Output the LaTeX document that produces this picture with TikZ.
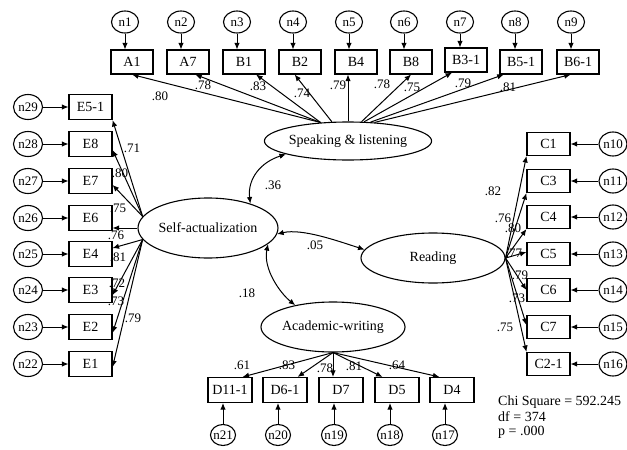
\documentclass[tikz,border=0pt]{standalone}
\usepackage{fontspec}
\setmainfont{Liberation Serif}
\usetikzlibrary{shapes.geometric,arrows.meta}
\newcommand{\fsz}{\fontsize{14}{16}\selectfont}
\newcommand{\fsl}{\fontsize{13}{15}\selectfont}
\begin{document}
\begin{tikzpicture}[x=1pt,y=-1pt,
  ind/.style={draw, line width=1.1pt, minimum width=42pt, minimum height=24pt, inner sep=0pt, font=\fsz},
  indl/.style={ind, minimum width=43pt, minimum height=25pt},
  indr/.style={ind, minimum width=43pt, minimum height=23pt},
  indb/.style={ind, minimum width=44pt, minimum height=25pt},
  err/.style={draw, ellipse, line width=1.1pt, inner sep=-1.5pt, minimum width=27pt, minimum height=22pt, font=\fsl},
  errl/.style={err, minimum width=29pt, minimum height=25pt},
  errr/.style={err, minimum width=28pt, minimum height=24pt},
  errb/.style={err, minimum width=25pt, minimum height=21pt},
  lat/.style={draw, ellipse, line width=1.1pt, inner sep=0pt, font=\fsz},
  arr/.style={-{Latex[length=6.5pt,width=5.5pt]}, line width=1pt},
  cov/.style={{Latex[length=6.5pt,width=5.5pt]}-{Latex[length=6.5pt,width=5.5pt]}, line width=1pt},
  lab/.style={inner sep=0pt, font=\fsl},
  stat/.style={inner sep=0pt, anchor=west, font=\fsz}
]
\fill[white] (0,0) rectangle (627,450);
\useasboundingbox (0,0) rectangle (627,450);

% latent variables
\node[lat, minimum width=164pt, minimum height=38pt] (sl) at (348,141) {Speaking \& listening};
\node[lat, minimum width=140pt, minimum height=60pt] (sa) at (208,228) {Self-actualization};
\node[lat, minimum width=144pt, minimum height=50pt] (rd) at (433,258) {Reading};
\node[lat, minimum width=136pt, minimum height=50pt] (aw) at (333,327) {Academic-writing};

% top indicators
\node[ind] (A1) at (132,62) {A1};
\node[ind] (A7) at (188,62) {A7};
\node[ind] (B1) at (244,62) {B1};
\node[ind] (B2) at (300,62) {B2};
\node[ind] (B4) at (356,62) {B4};
\node[ind] (B8) at (411,62) {B8};
\node[ind] (B31) at (466,60) {B3-1};
\node[ind] (B51) at (521,62) {B5-1};
\node[ind] (B61) at (578,62) {B6-1};
\foreach \n/\b/\x in {n1/A1/125,n2/A7/181,n3/B1/237,n4/B2/293,n5/B4/349,n6/B8/404,n7/B31/460,n8/B51/515,n9/B61/571}{
  \node[err] (\n) at (\x,22) {\n};
  \draw[arr] (\n.south) -- (\n.south |- \b.north);
}

% left indicators
\foreach \e/\t/\y/\n in {E51/E5-1/107/n29,E8/E8/144/n28,E7/E7/181/n27,E6/E6/218/n26,E4/E4/254/n25,E3/E3/290/n24,E2/E2/327/n23,E1/E1/364/n22}{
  \node[indl] (\e) at (90.5,\y) {\t};
  \node[errl] (\n) at (28,\y) {\n};
  \draw[arr] (\n.east) -- (\e.west);
}

% right indicators
\foreach \c/\t/\y/\n in {C1/C1/144/n10,C3/C3/181/n11,C4/C4/217/n12,C5/C5/254/n13,C6/C6/290/n14,C7/C7/327/n15,C21/C2-1/364/n16}{
  \node[indr] (\c) at (548.5,\y) {\t};
  \node[errr] (\n) at (613,\y) {\n};
  \draw[arr] (\n.west) -- (\c.east);
}

% bottom indicators
\foreach \d/\t/\x/\n/\nx in {D111/D11-1/230/n21/223,D61/D6-1/285/n20/278,D7/D7/341/n19/334,D5/D5/397/n18/390,D4/D4/452/n17/445}{
  \node[indb] (\d) at (\x,390) {\t};
  \node[errb] (\n) at (\nx,435) {\n};
  \draw[arr] (\n.north) -- (\n.north |- \d.south);
}

% loadings: speaking & listening
\draw[arr] (sl.146) -- (A1.south);
\draw[arr] (sl.146) -- (A7.-60);
\draw[arr] (sl.146) -- (B1.-46);
\draw[arr] (sl.130) -- (B2.-113);
\draw[arr] (sl.north) -- (sl.north |- B4.south);
\draw[arr] (sl.55) -- (B8.south);
\draw[arr] (sl.50) -- (B31.-138);
\draw[arr] (sl.40) -- (B51.-144);
\draw[arr] (sl.35) -- (B61.-120);

% loadings: self-actualization
\draw[arr] (sa.170) -- (E51.south east);
\draw[arr] (sa.170) -- (E8.-15);
\draw[arr] (sa.170) -- (E7.-10);
\draw[arr] (sa.west) -- (sa.west -| E6.east);
\draw[arr] (sa.190) -- (E4.15);
\draw[arr] (sa.190) -- (E3.-13);
\draw[arr] (sa.190) -- (E2.-15);
\draw[arr] (sa.190) -- (E1.-8);

% loadings: reading
\draw[arr] (rd.east) -- (C1.south west);
\draw[arr] (rd.east) -- (C3.south west);
\draw[arr] (rd.east) -- (C4.south west);
\draw[arr] (rd.east) -- (C5.175);
\draw[arr] (rd.east) -- (C6.west);
\draw[arr] (rd.east) -- (C7.175);
\draw[arr] (rd.east) -- (C21.north west);

% loadings: academic writing
\draw[arr] (aw.south) -- (D111.46);
\draw[arr] (aw.south) -- (D61.46);
\draw[arr] (aw.south) -- (aw.south |- D7.north);
\draw[arr] (aw.south) -- (D5.138);
\draw[arr] (aw.south) -- (D4.134);

% covariances
\draw[cov] (sa.30) .. controls +(-3,-25) and +(-25,8) .. (sl.-168);
\draw[cov] (sa.-5) .. controls +(25,-6) and +(-25,-8) .. (rd.173);
\draw[cov] (sa.-15) .. controls +(-5,25) and +(-15,-12) .. (aw.150);

% loading labels
\node[lab] (l1) at (160,96) {.80};
\node[lab] (l2) at (203,85) {.78};
\node[lab] (l3) at (258,86) {.83};
\node[lab] (l4) at (302,93) {.74};
\node[lab] (l5) at (338,85) {.79};
\node[lab] (l6) at (382,84) {.78};
\node[lab] (l7) at (412,87) {.75};
\node[lab] (l8) at (463,83) {.79};
\node[lab] (l9) at (508,87) {.81};

\node[lab] (e1) at (132,148) {.71};
\node[lab] (e2) at (120,173) {.80};
\node[lab] (e3) at (118,208) {.75};
\node[lab] (e4) at (116,235) {.76};
\node[lab] (e5) at (118,257) {.81};
\node[lab] (e6) at (117,283) {.72};
\node[lab] (e7) at (116,301) {.73};
\node[lab] (e8) at (133,318) {.79};

\node[lab] (c1) at (493,191) {.82};
\node[lab] (c2) at (503,218) {.76};
\node[lab] (c3) at (513,228) {.80};
\node[lab] (c4) at (514,253) {.77};
\node[lab] (c5) at (520,275) {.79};
\node[lab] (c6) at (517,298) {.73};
\node[lab] (c7) at (505,327) {.75};

\node[lab] (d1) at (242,365) {.61};
\node[lab] (d2) at (287,365) {.83};
\node[lab] (d3) at (325,368) {.78};
\node[lab] (d4) at (354,366) {.81};
\node[lab] (d5) at (397,365) {.64};

\node[lab] (r1) at (273,185) {.36};
\node[lab] (r2) at (315,245) {.05};
\node[lab] (r3) at (247,293) {.18};

% fit statistics
\node[stat] (s1) at (498,402) {Chi Square = 592.245};
\node[stat] (s2) at (498,417) {df = 374};
\node[stat] (s3) at (498,432) {p = .000};
\end{tikzpicture}
\end{document}
